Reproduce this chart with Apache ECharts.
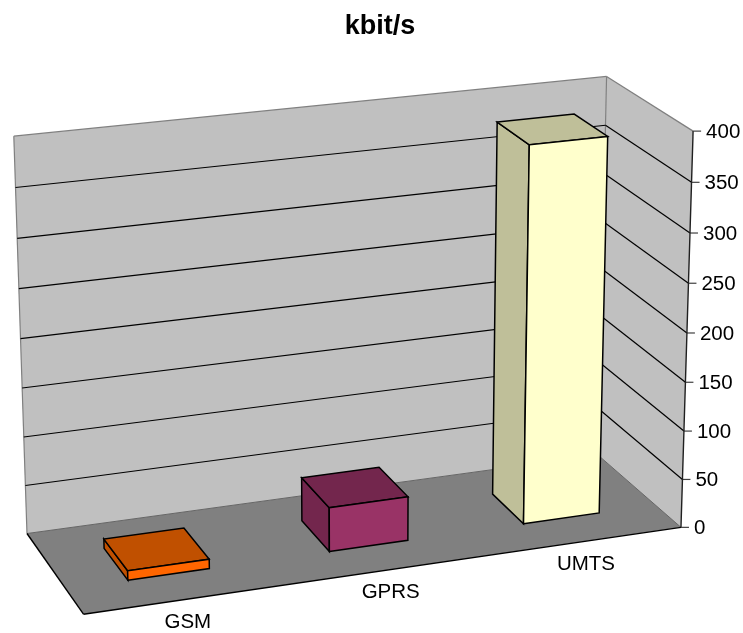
<!DOCTYPE html>
<html>
<head>
<meta charset="utf-8">
<style>html,body{margin:0;padding:0;background:#fff}#c{width:743px;height:633px}</style>
<script src="https://cdn.jsdelivr.net/npm/echarts@6/dist/echarts.min.js"></script>
</head>
<body>
<div id="c"></div>
<script>
const categories = ['GSM', 'GPRS', 'UMTS'];
const values = [9.6, 45, 384];
const yTicks = [0, 50, 100, 150, 200, 250, 300, 350, 400];
const frontColors = ['#FF6600', '#993366', '#FFFFCC'];
const shadeColors = ['#C05000', '#73264D', '#BFBF99'];
const titleText = 'kbit/s';

// Camera calibration: box corner (x, y, depth) -> picture position.
const calibration = [
  [0,0,1, 27,533.3],[1,0,1, 598.5,456],[1,1,1, 606,76],[0,1,1, 14,136.5],
  [0,0,0, 83.3,614.7],[1,0,0, 680.7,526],[1,1,0, 693.5,131],
  [1,.5,0, 687,334],[0,.5,1, 20.5,338]
];
const S = 700;
function solveCamera(pts) {
  const n = 11, A = [...Array(n)].map(() => Array(n + 1).fill(0));
  const add = (r, b) => { for (let i = 0; i < n; i++) { for (let j = 0; j < n; j++) A[i][j] += r[i] * r[j]; A[i][n] += r[i] * b; } };
  pts.forEach(([x, y, z, u0, v0]) => {
    const u = u0 / S, v = v0 / S;
    add([x, y, z, 1, 0, 0, 0, 0, -u * x, -u * y, -u * z], u);
    add([0, 0, 0, 0, x, y, z, 1, -v * x, -v * y, -v * z], v);
  });
  for (let c = 0; c < n; c++) {
    let m = c;
    for (let r = c + 1; r < n; r++) if (Math.abs(A[r][c]) > Math.abs(A[m][c])) m = r;
    [A[c], A[m]] = [A[m], A[c]];
    for (let r = 0; r < n; r++) if (r !== c) {
      const f = A[r][c] / A[c][c];
      for (let k = c; k <= n; k++) A[r][k] -= f * A[c][k];
    }
  }
  return A.map((row, i) => row[n] / row[i]);
}
const P = solveCamera(calibration);
function project(x, y, z) {
  const w = P[8] * x + P[9] * y + P[10] * z + 1;
  return [S * (P[0] * x + P[1] * y + P[2] * z + P[3]) / w,
          S * (P[4] * x + P[5] * y + P[6] * z + P[7]) / w];
}

const barFrac = 0.4, depthNear = 0.3, depthFar = 0.7;
const FONT = '"Liberation Sans", Arial, sans-serif';

function poly(points, fill, stroke, lw) {
  return { type: 'polygon', silent: true, shape: { points }, style: { fill, stroke: stroke || null, lineWidth: lw || 0 } };
}
function line(a, b, stroke, lw) {
  return { type: 'line', silent: true, shape: { x1: a[0], y1: a[1], x2: b[0], y2: b[1] }, style: { stroke, lineWidth: lw || 1, fill: null } };
}
function text(str, x, y, size, align, weight) {
  return { type: 'text', silent: true, style: { text: str, x, y, fill: '#000', align: align, verticalAlign: 'middle',
    fontFamily: FONT, fontSize: size, fontWeight: weight || 'normal' } };
}

function renderFrame() {
  const c = (x, y, z) => project(x, y, z);
  const grey = '#808080';
  return { type: 'group', children: [
    poly([c(0,0,1), c(1,0,1), c(1,1,1), c(0,1,1)], '#C0C0C0'),
    poly([c(1,0,1), c(1,0,0), c(1,1,0), c(1,1,1)], '#C0C0C0'),
    poly([c(0,0,1), c(1,0,1), c(1,0,0), c(0,0,0)], '#808080'),
    line(c(0,1,1), c(1,1,1), grey, 1.2), line(c(1,1,1), c(1,1,0), grey, 1.2),
    line(c(0,0,1), c(0,1,1), grey, 1.2), line(c(1,0,1), c(1,1,1), grey, 1.2),
    line(c(1,0,1), c(1,0,0), '#666'), line(c(0,0,1), c(1,0,1), '#666')
  ] };
}
function renderTick(params, api) {
  const H = api.getHeight();
  const y = 1 - api.coord([0, api.value(1)])[1] / H;
  const tick = api.value(1);
  const a = project(0, y, 1), b = project(1, y, 1), d = project(1, y, 0);
  const children = [];
  if (tick > 0 && tick < 400) children.push(line(a, b, '#000', 1.2), line(b, d, '#000', 1.2));
  children.push(line(d, [d[0] + 8, d[1]], '#404040', 1.2));
  children.push(text(String(tick), d[0] + 13, d[1] + 1, 20.5, 'left'));
  return { type: 'group', children };
}
function renderAxes() {
  const c = (x, y, z) => project(x, y, z);
  return { type: 'group', children: [
    line(c(0,0,1), c(0,0,0), '#000', 1.4), line(c(0,0,0), c(1,0,0), '#000', 1.4),
    line(c(1,0,0), c(1,1,0), '#202020', 1.4)
  ] };
}
function renderBar(params, api) {
  const W = api.getWidth(), H = api.getHeight();
  const i = api.value(0);
  const top = api.coord([i, api.value(1)]), base = api.coord([i, 0]);
  const band = api.size([1, 0])[0];
  const x0 = (top[0] - band * barFrac / 2) / W, x1 = (top[0] + band * barFrac / 2) / W;
  const y0 = 1 - base[1] / H, y1 = 1 - top[1] / H;
  const p = (x, y, z) => project(x, y, z);
  const front = frontColors[i], shade = shadeColors[i];
  const s = '#000', lw = 1.5;
  const label = project((top[0]) / W, 0, 0);
  return { type: 'group', children: [
    poly([p(x0,y0,depthFar), p(x0,y0,depthNear), p(x0,y1,depthNear), p(x0,y1,depthFar)], shade, s, lw),
    poly([p(x0,y1,depthNear), p(x1,y1,depthNear), p(x1,y1,depthFar), p(x0,y1,depthFar)], shade, s, lw),
    poly([p(x0,y0,depthNear), p(x1,y0,depthNear), p(x1,y1,depthNear), p(x0,y1,depthNear)], front, s, lw),
    text(categories[i], label[0] + 0, label[1] + 23, 20.5, 'center')
  ] };
}

const chart = echarts.init(document.getElementById('c'), null, { renderer: 'canvas' });
chart.setOption({
  animation: false,
  backgroundColor: '#fff',
  title: { text: titleText, left: 375, top: 8, textAlign: 'center',
    textStyle: { fontFamily: FONT, fontSize: 27, fontWeight: 'bold', color: '#000' } },
  tooltip: { show: false },
  grid: { left: 0, right: 0, top: 0, bottom: 0, show: false },
  xAxis: { type: 'category', data: categories, show: false },
  yAxis: { type: 'value', min: 0, max: 400, interval: 50, show: false },
  series: [
    { type: 'custom', z: 1, clip: false, data: [[0, 0]], encode: { x: 0, y: 1 }, renderItem: renderFrame },
    { type: 'custom', z: 2, clip: false, data: yTicks.map(t => [0, t]), encode: { x: 0, y: 1 }, renderItem: renderTick },
    { type: 'custom', z: 3, clip: false, data: [[0, 0]], encode: { x: 0, y: 1 }, renderItem: renderAxes },
    { type: 'custom', z: 4, clip: false, data: values.map((v, i) => [i, v]), encode: { x: 0, y: 1 }, renderItem: renderBar }
  ]
});
</script>
</body>
</html>
